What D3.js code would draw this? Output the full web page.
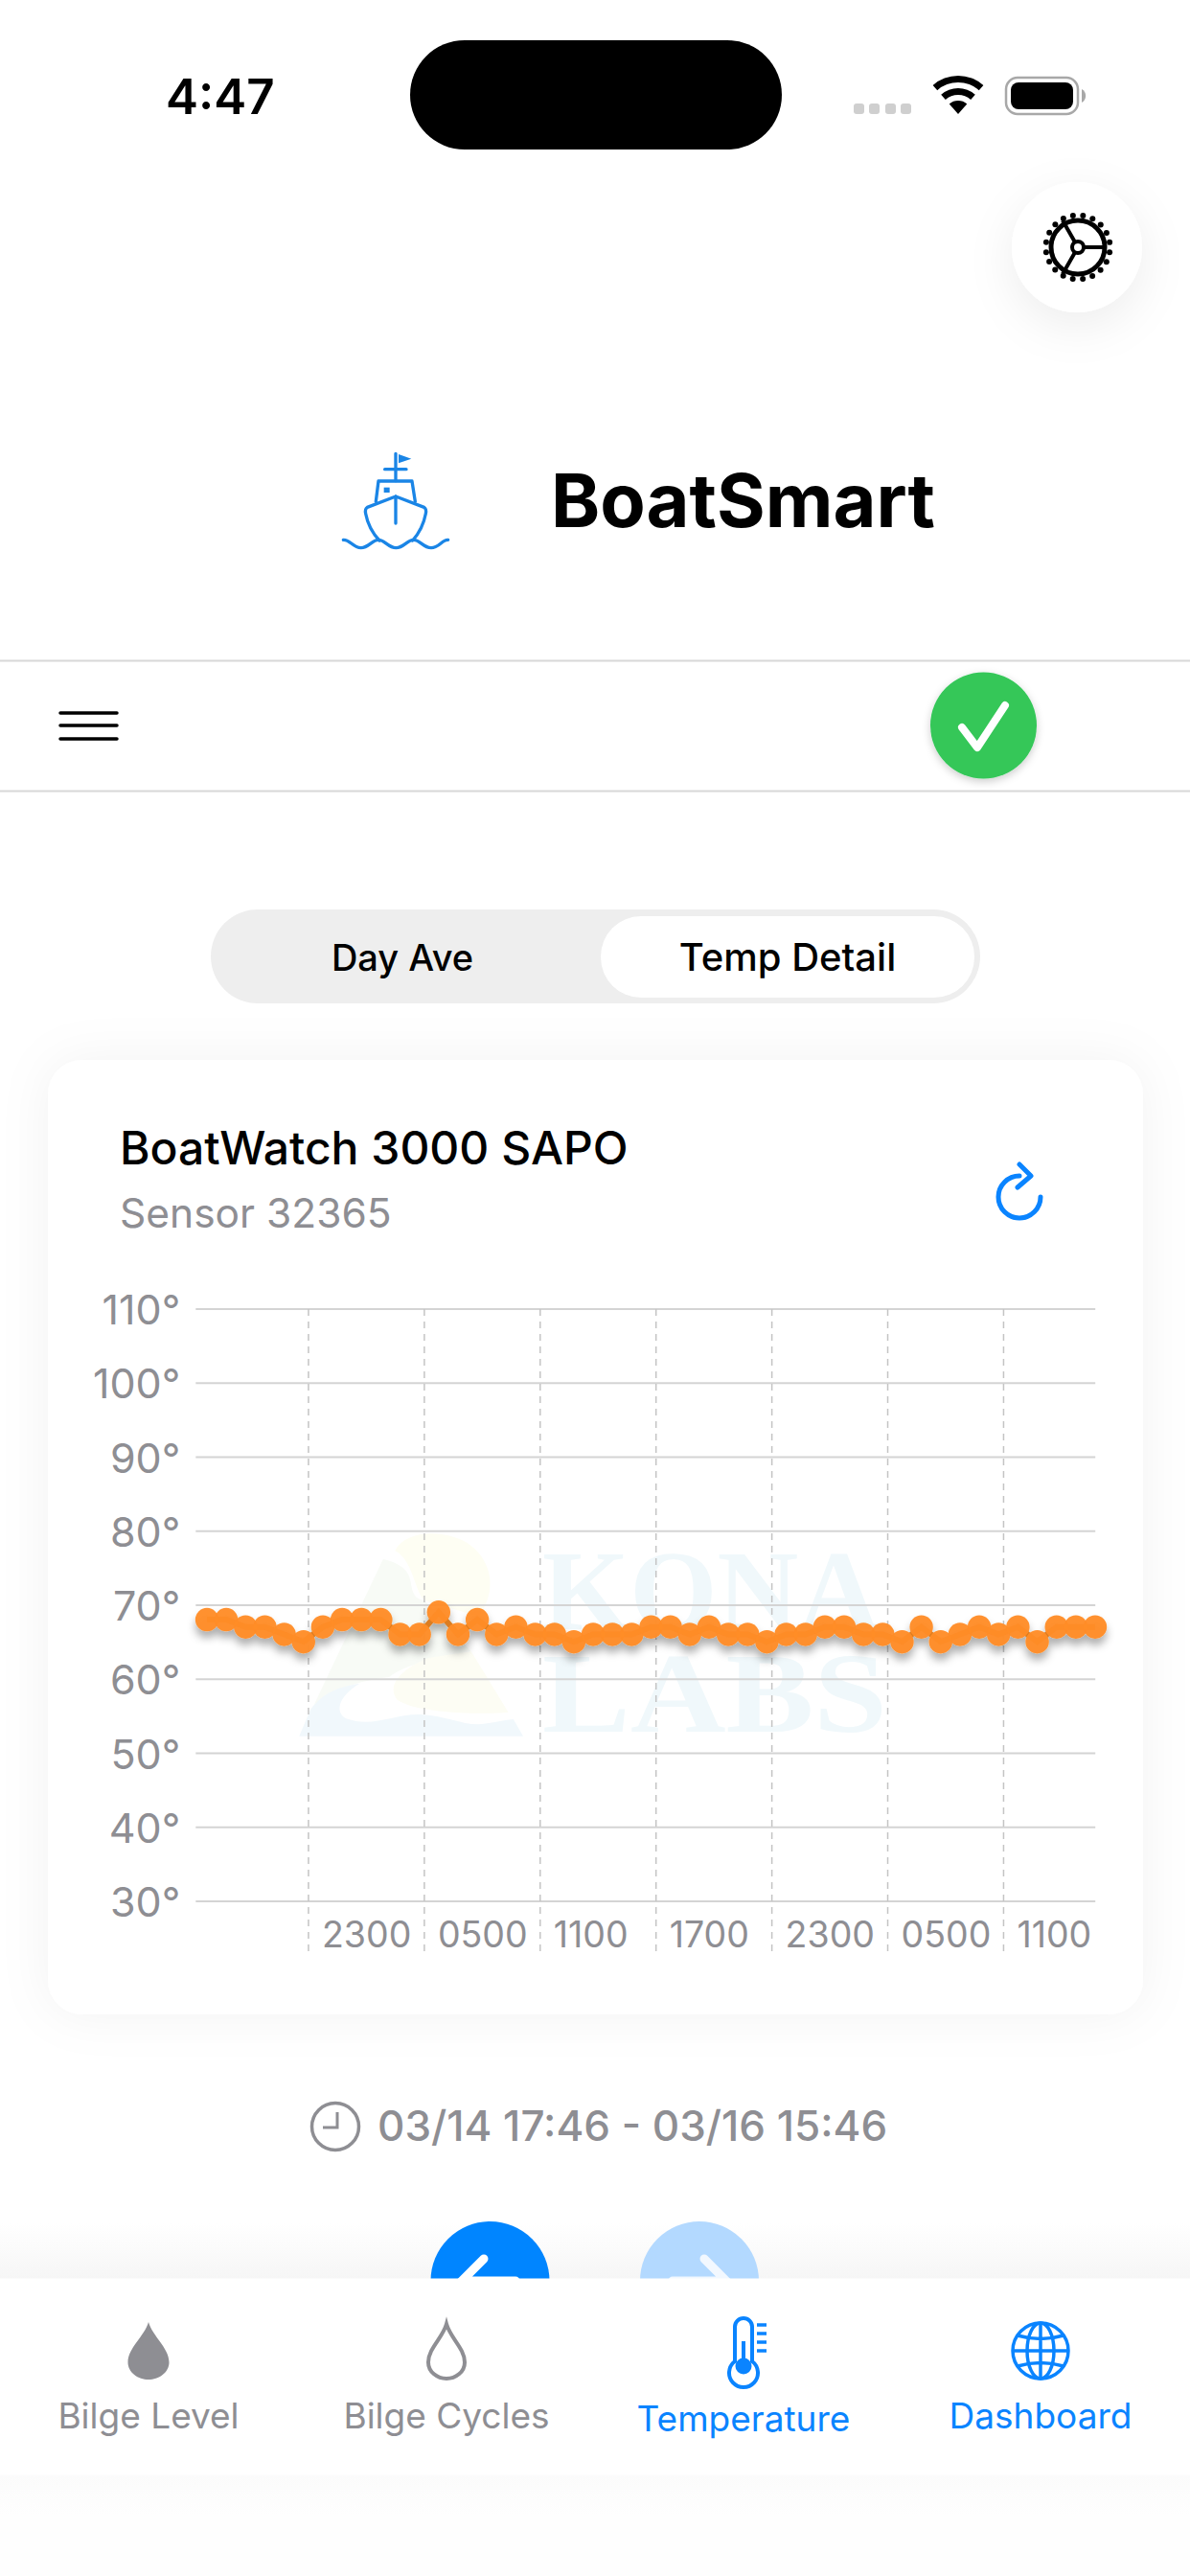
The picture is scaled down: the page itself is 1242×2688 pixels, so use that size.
<!DOCTYPE html>
<html>
<head>
<meta charset="utf-8">
<script src="https://cdn.jsdelivr.net/npm/d3@7"></script>
<style>
  html, body { margin: 0; background: #fff; }
  svg { display: block; }
  text { font-family: Inter, "Noto Sans", sans-serif; }
</style>
</head>
<body>
<svg id="screen" width="1242" height="2688"></svg>
<script>
const temps = [
  68, 68, 67, 67, 66, 65, 67, 68, 68, 68, 66, 66, 69, 66, 68, 66, 67, 66, 66, 65, 66, 66, 66,
  67, 67, 66, 67, 66, 66, 65, 66, 66, 67, 67, 66, 66, 65, 67, 65, 66, 67, 66, 67, 65, 67, 67, 67,
]
const yTicks = [30, 40, 50, 60, 70, 80, 90, 100, 110]
const xTickLabels = ["2300", "0500", "1100", "1700", "2300", "0500", "1100"]
const tabLabels = ["Bilge Level", "Bilge Cycles", "Temperature", "Dashboard"]

const startTime = new Date(2024, 2, 14, 17, 46)
const endTime = d3.timeHour.offset(startTime, temps.length - 1)
const times = temps.map((_, i) => d3.timeHour.offset(startTime, i))
const xTicks = d3.timeHour.range(new Date(2024, 2, 14, 23), endTime, 6)

const GRAY = "#8e8e93"
const BLUE = "#0a84ff"
const svg = d3.select("#screen")
const defs = svg.append("defs")

const addShadow = (id, dy, blur, opacity) => {
  const f = defs.append("filter").attr("id", id)
    .attr("x", "-50%").attr("y", "-50%").attr("width", "200%").attr("height", "200%")
  f.append("feDropShadow").attr("dx", 0).attr("dy", dy)
    .attr("stdDeviation", blur).attr("flood-color", "#000").attr("flood-opacity", opacity)
}
addShadow("gearShadow", 14, 24, 0.07)
addShadow("cardShadow", 0, 26, 0.05)
addShadow("checkShadow", 3, 4, 0.2)
addShadow("dotShadow", 7, 4, 0.32)

const addFade = (id, from, to) => {
  const g = defs.append("linearGradient").attr("id", id).attr("x2", 0).attr("y2", 1)
  g.append("stop").attr("offset", 0).attr("stop-color", from)
  g.append("stop").attr("offset", 1).attr("stop-color", to)
}
addFade("tabFade", "#ffffff", "#f6f6f6")
addFade("tabBelow", "#fbfbfb", "#fefefe")

// status bar
svg.append("text").attr("x", 173).attr("y", 119).attr("font-size", 51).attr("font-weight", 600)
  .attr("fill", "#000").text("4:47")
svg.append("rect").attr("x", 428).attr("y", 42).attr("width", 388).attr("height", 114).attr("rx", 57).attr("fill", "#000")
svg.append("g").selectAll("rect").data([891, 907, 924, 940]).join("rect")
  .attr("x", (d) => d).attr("y", 108).attr("width", 11).attr("height", 11).attr("rx", 3).attr("fill", "#cfcfcf")
const wifi = svg.append("g").attr("transform", "translate(1000,119)").attr("fill", "#000")
;[[33, 40], [20, 27], [0, 14]].forEach(([r0, r1]) => {
  wifi.append("path").attr("d", d3.arc()({ innerRadius: r0, outerRadius: r1, startAngle: -0.72, endAngle: 0.72 }))
})
svg.append("rect").attr("x", 1050).attr("y", 81).attr("width", 75).attr("height", 38).attr("rx", 12)
  .attr("fill", "none").attr("stroke", "#a8a8a8").attr("stroke-width", 2.5)
svg.append("rect").attr("x", 1055).attr("y", 86).attr("width", 65).attr("height", 28).attr("rx", 8).attr("fill", "#000")
svg.append("path").attr("d", "M1129 93 A8 8 0 0 1 1129 107 Z").attr("fill", "#a8a8a8")

// settings button
svg.append("circle").attr("cx", 1124).attr("cy", 258).attr("r", 68).attr("fill", "#fff").attr("filter", "url(#gearShadow)")
const gear = svg.append("g").attr("transform", "translate(1125,258)")
gear.selectAll("circle.tooth").data(d3.range(20)).join("circle").attr("class", "tooth")
  .attr("cx", (d) => 33.5 * Math.cos((d * Math.PI) / 10 + 0.16))
  .attr("cy", (d) => 33.5 * Math.sin((d * Math.PI) / 10 + 0.16))
  .attr("r", 3).attr("fill", "#000")
gear.append("circle").attr("r", 28).attr("fill", "#fff").attr("stroke", "#000").attr("stroke-width", 5)
gear.append("path").attr("d", "M0 0 L28 0 M0 0 L-16 -28 M0 0 L-16 28").attr("stroke", "#000").attr("stroke-width", 4)
gear.append("circle").attr("r", 6).attr("fill", "#fff").attr("stroke", "#000").attr("stroke-width", 4)

// logo and app title
const boat = svg.append("g").attr("transform", "translate(300,440) scale(0.3333)")
  .attr("fill", "none").attr("stroke", "#1a85e6").attr("stroke-width", 10)
  .attr("stroke-linecap", "round").attr("stroke-linejoin", "round")
boat.append("path").attr("d", "M339 100 V185 M305 149 H372")
boat.append("path").attr("d", "M348 102 L388 116 L348 130 Z").attr("fill", "#1a85e6").attr("stroke", "none")
boat.append("path").attr("d", "M277 250 L285 186 H390 L400 250")
boat.append("rect").attr("x", 302).attr("y", 206).attr("width", 18).attr("height", 16).attr("fill", "#1a85e6").attr("stroke", "none")
boat.append("path").attr("d", "M339 234 L250 268 Q242 273 245 288 Q254 336 288 372 M339 234 L428 268 Q436 273 433 288 Q424 336 392 372 M339 234 V318")
boat.append("path").attr("d", "M175 370 C195 368 205 395 230 395 C255 395 265 370 285 370 C305 370 315 395 340 395 C365 395 375 370 395 370 C415 370 425 395 450 395 C475 395 485 368 503 370")
svg.append("text").attr("x", 575).attr("y", 550).attr("font-size", 77.5).attr("font-weight", 700)
  .attr("fill", "#000").text("BoatSmart")

// header bar
svg.append("g").selectAll("line").data([689.5, 825.5]).join("line")
  .attr("x1", 0).attr("x2", 1242).attr("y1", (d) => d).attr("y2", (d) => d)
  .attr("stroke", "#d8d8d8").attr("stroke-width", 2)
svg.append("g").selectAll("line").data([744, 757, 771]).join("line")
  .attr("x1", 63).attr("x2", 122).attr("y1", (d) => d).attr("y2", (d) => d)
  .attr("stroke", "#000").attr("stroke-width", 3.5).attr("stroke-linecap", "round")
svg.append("circle").attr("cx", 1026.5).attr("cy", 757).attr("r", 55.5).attr("fill", "#34c759").attr("filter", "url(#checkShadow)")
svg.append("path").attr("d", "M1004 759 L1020 780 L1049 736").attr("fill", "none").attr("stroke", "#fff")
  .attr("stroke-width", 8).attr("stroke-linecap", "round").attr("stroke-linejoin", "round")

// segmented control
svg.append("rect").attr("x", 220).attr("y", 949).attr("width", 803).attr("height", 98).attr("rx", 49).attr("fill", "#eeeeee")
svg.append("rect").attr("x", 627).attr("y", 956).attr("width", 390).attr("height", 85).attr("rx", 42).attr("fill", "#fff")
svg.append("text").attr("x", 420).attr("y", 1013).attr("text-anchor", "middle").attr("font-size", 38).attr("font-weight", 500).attr("fill", "#000").text("Day Ave")
svg.append("text").attr("x", 822).attr("y", 1013).attr("text-anchor", "middle").attr("font-size", 40).attr("font-weight", 500).attr("fill", "#000").text("Temp Detail")

// card
svg.append("rect").attr("x", 50).attr("y", 1106).attr("width", 1143).attr("height", 996).attr("rx", 36).attr("fill", "#fff").attr("filter", "url(#cardShadow)")
svg.append("text").attr("x", 125).attr("y", 1215).attr("font-size", 48).attr("font-weight", 500).attr("fill", "#000").text("BoatWatch 3000 SAPO")
svg.append("text").attr("x", 125).attr("y", 1281).attr("font-size", 42.5).attr("fill", GRAY).text("Sensor 32365")
svg.append("path").attr("d", "M1064 1227 A22 22 0 1 0 1086 1249 M1064 1215 L1076 1227 L1062 1239")
  .attr("fill", "none").attr("stroke", BLUE).attr("stroke-width", 5).attr("stroke-linecap", "round").attr("stroke-linejoin", "round")

// watermark
const mark = svg.append("g").attr("transform", "translate(300,1590) scale(0.408,0.3333)")
mark.append("path").attr("fill", "#fefef3").attr("d", "M275 85 C300 20 400 15 460 60 C520 110 540 200 490 290 L350 240 C325 210 320 110 275 85 Z")
mark.append("path").attr("fill", "#f8fbf6").attr("d", "M30 665 L245 110 C290 125 310 145 315 180 C320 220 325 235 350 240 L470 400 C400 415 300 440 260 480 C180 490 90 530 60 580 Z")
mark.append("path").attr("fill", "#fdfdf4").attr("d", "M470 400 L565 590 C480 600 320 590 280 550 C250 500 300 450 360 420 Z")
mark.append("path").attr("fill", "#f1f8fc").attr("d", "M30 665 L60 580 C90 530 130 510 185 500 C130 540 120 590 150 610 C220 640 270 595 340 597 C400 600 450 630 490 628 C520 625 550 615 578 612 L603 665 Z")
svg.append("text").attr("x", 566).attr("y", 1700).attr("font-weight", 700).attr("font-size", 118)
  .attr("textLength", 352).attr("lengthAdjust", "spacingAndGlyphs").attr("fill", "#f0f8fb").style("font-family", "Liberation Serif").text("KONA")
svg.append("text").attr("x", 566).attr("y", 1807).attr("font-weight", 700).attr("font-size", 118)
  .attr("textLength", 360).attr("lengthAdjust", "spacingAndGlyphs").attr("fill", "#f0f8fb").style("font-family", "Liberation Serif").text("LABS")

// chart
const plot = { left: 204.3, right: 1143.2, top: 1365.5, bottom: 1983.6, axisBottom: 2036 }
const x = d3.scaleTime().domain([startTime, endTime]).range([216, 1143])
const y = d3.scaleLinear().domain([30, 110]).range([plot.bottom, plot.top])

const yAxis = d3.axisLeft(y).tickValues(yTicks).tickSize(-(plot.right - plot.left)).tickFormat((d) => `${d}°`)
const xAxis = d3.axisBottom(x).tickValues(xTicks).tickSize(-(plot.axisBottom - plot.top)).tickFormat((d, i) => xTickLabels[i])

const gy = svg.append("g").attr("transform", `translate(${plot.left},0)`).call(yAxis)
gy.select(".domain").remove()
gy.selectAll("line").attr("stroke", "#d4d4d4").attr("stroke-width", 2)
gy.selectAll("text").attr("x", -16).attr("y", 16).attr("dy", 0).attr("font-size", 43)
  .style("font-family", "Inter").attr("fill", GRAY)

const gx = svg.append("g").attr("transform", `translate(0,${plot.axisBottom})`).call(xAxis)
gx.select(".domain").remove()
gx.selectAll("line").attr("stroke", "#c4c4c4").attr("stroke-width", 1.5).attr("stroke-dasharray", "7 6")
gx.selectAll("text").attr("x", 14).attr("y", -4.5).attr("dy", 0).attr("text-anchor", "start").attr("font-size", 37.5)
  .style("font-family", "Inter").attr("fill", GRAY)

const series = svg.append("g").attr("filter", "url(#dotShadow)")
series.append("path").datum(temps)
  .attr("d", d3.line().x((d, i) => x(times[i])).y((d) => y(d)))
  .attr("fill", "none").attr("stroke", "#db7d20").attr("stroke-width", 6)
series.selectAll("circle").data(temps).join("circle")
  .attr("cx", (d, i) => x(times[i])).attr("cy", (d) => y(d)).attr("r", 12.2)
  .attr("fill", "#ff8c26").attr("fill-opacity", 0.96)

// date range
svg.append("circle").attr("cx", 350).attr("cy", 2219).attr("r", 24.5).attr("fill", "none").attr("stroke", GRAY).attr("stroke-width", 3.5)
svg.append("path").attr("d", "M352 2204 V2220 H337").attr("fill", "none").attr("stroke", GRAY).attr("stroke-width", 3)
svg.append("text").attr("x", 394).attr("y", 2234).attr("font-size", 44).attr("font-weight", 500).attr("fill", GRAY).text("03/14 17:46 - 03/16 15:46")

// paging buttons, cut off by the tab bar
svg.append("rect").attr("x", 0).attr("y", 2320).attr("width", 1242).attr("height", 58).attr("fill", "url(#tabFade)")
svg.append("circle").attr("cx", 511.5).attr("cy", 2380).attr("r", 62).attr("fill", "#0085ff")
svg.append("circle").attr("cx", 730).attr("cy", 2380).attr("r", 62).attr("fill", "#b3d9ff")
svg.append("path").attr("d", "M505 2357 L482 2380 L505 2403 M484 2380 H538").attr("fill", "none").attr("stroke", "#fff").attr("stroke-width", 9).attr("stroke-linecap", "round")
svg.append("path").attr("d", "M735 2357 L758 2380 L735 2403 M756 2380 H702").attr("fill", "none").attr("stroke", "#f2f8ff").attr("stroke-width", 9).attr("stroke-linecap", "round")

// tab bar
svg.append("rect").attr("x", 0).attr("y", 2377.5).attr("width", 1242).attr("height", 205).attr("fill", "#fff")
svg.append("rect").attr("x", 0).attr("y", 2582.5).attr("width", 1242).attr("height", 42).attr("fill", "url(#tabBelow)")
svg.append("rect").attr("x", 0).attr("y", 2624.5).attr("width", 1242).attr("height", 64).attr("fill", "#fefefe")

const dropPath = (cx, top, w, h) =>
  `M${cx} ${top} C${cx + w * 0.1} ${top + h * 0.25} ${cx + w / 2} ${top + h * 0.45} ${cx + w / 2} ${top + h * 0.7} ` +
  `C${cx + w / 2} ${top + h * 0.88} ${cx + w * 0.25} ${top + h} ${cx} ${top + h} ` +
  `C${cx - w * 0.25} ${top + h} ${cx - w / 2} ${top + h * 0.88} ${cx - w / 2} ${top + h * 0.7} ` +
  `C${cx - w / 2} ${top + h * 0.45} ${cx - w * 0.1} ${top + h * 0.25} ${cx} ${top} Z`
svg.append("path").attr("d", dropPath(155, 2423, 43, 60)).attr("fill", GRAY)
svg.append("path").attr("d", dropPath(466, 2425, 38, 57)).attr("fill", "none").attr("stroke", GRAY).attr("stroke-width", 4)

const thermo = svg.append("g").attr("transform", "translate(776,2469)").attr("fill", "none").attr("stroke", BLUE)
thermo.append("path").attr("stroke-width", 4).attr("d", "M-9 -5 V-41 A9 9 0 0 1 9 -41 V-5 A15 15 0 1 1 -9 -5 Z")
thermo.append("circle").attr("r", 8.5).attr("fill", BLUE).attr("stroke", "none")
thermo.append("line").attr("y1", -26).attr("y2", 0).attr("stroke-width", 4)
thermo.selectAll("line.tick").data([-43, -34, -25, -16]).join("line").attr("class", "tick")
  .attr("x1", 14).attr("x2", 24).attr("y1", (d) => d).attr("y2", (d) => d).attr("stroke-width", 3.5)

const globe = svg.append("g").attr("transform", "translate(1086,2453)").attr("fill", "none").attr("stroke", BLUE).attr("stroke-width", 3.5)
globe.append("circle").attr("r", 29)
globe.append("ellipse").attr("rx", 14).attr("ry", 29)
globe.append("path").attr("d", "M0 -29 V29 M-29 0 H29 M-24 -16 Q0 -9 24 -16 M-24 16 Q0 9 24 16")

const tabX = [155, 466, 776, 1086]
const tabY = [2533.5, 2533.5, 2537, 2533.5]
svg.append("g").selectAll("text").data(tabLabels).join("text")
  .attr("x", (d, i) => tabX[i]).attr("y", (d, i) => tabY[i]).attr("text-anchor", "middle").attr("font-size", 37)
  .attr("fill", (d, i) => (i < 2 ? GRAY : BLUE)).text((d) => d)
</script>
</body>
</html>
